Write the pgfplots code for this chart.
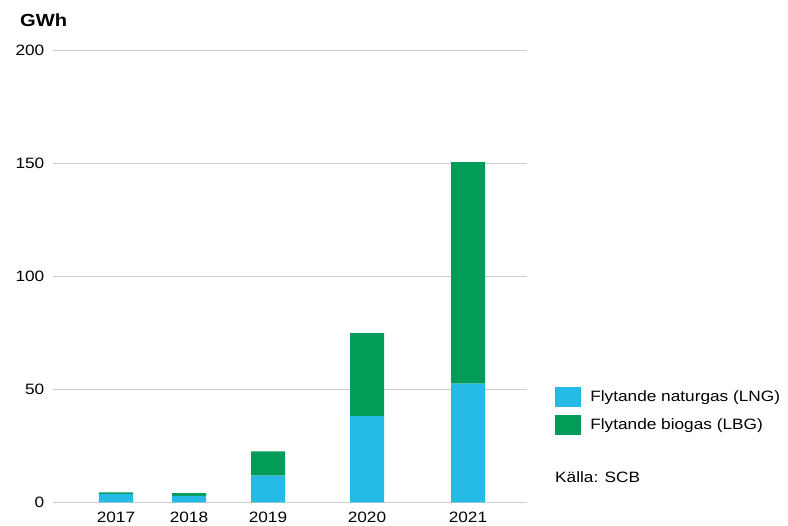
\documentclass[border=0pt]{standalone}
\usepackage{fontspec}
\setmainfont[FakeStretch=1.15]{Liberation Sans}
\usepackage{pgfplots}
\pgfplotsset{compat=1.18}
\definecolor{lngblue}{RGB}{38,186,230}
\definecolor{lbggreen}{RGB}{2,156,88}
\definecolor{gridgray}{RGB}{205,205,205}
\begin{document}
\begin{tikzpicture}
\useasboundingbox (-53.5bp,-23.7bp) rectangle (734.5bp,502.3bp);
\begin{axis}[
  scale only axis,
  width=473.2bp, height=451.6bp,
  xmin=53.5, xmax=526.7,
  ymin=0, ymax=200,
  ybar stacked,
  bar width=34bp,
  axis line style={draw=none},
  tick style={draw=none},
  ymajorgrids,
  major grid style={gridgray, line width=1bp},
  ytick={0,50,100,150,200},
  xtick={116,189,268,367,468},
  xticklabels={2017,2018,2019,2020,2021},
  /pgf/number format/assume math mode=true,
  ticklabel style={font=\fontsize{15bp}{18bp}\selectfont, text=black},
  yticklabel style={anchor=east, inner sep=0pt, xshift=-9bp},
  xticklabel style={anchor=north, inner sep=0pt, yshift=-10bp},
  legend style={
    at={(axis description cs:1.06,0.2553)}, anchor=north west,
    draw=none, fill=none, inner sep=0pt,
    font=\fontsize{15bp}{18bp}\selectfont,
    row sep=8bp, column sep=9bp,
    nodes={inner sep=0pt, anchor=west}
  },
  legend cell align=left,
  legend image code/.code={\fill[#1] (0bp,-10bp) rectangle (26bp,10bp);},
]
\addplot[fill=lngblue, draw=none] coordinates {
  (116,3.7) (189,2.9) (268,11.8) (367,38.2) (468,52.6)};
\addlegendentry{Flytande naturgas (LNG)}
\addplot[fill=lbggreen, draw=none] coordinates {
  (116,0.7) (189,1.2) (268,10.7) (367,36.7) (468,98.0)};
\addlegendentry{Flytande biogas (LBG)}
\end{axis}
\node[anchor=west, inner sep=0pt, font=\bfseries\fontsize{17.5bp}{20bp}\selectfont] at (-33.5bp,482.3bp) {GWh};
\node[anchor=west, inner sep=0pt, font=\fontsize{15bp}{18bp}\selectfont] at (501.5bp,25.3bp) {Källa: SCB};
\end{tikzpicture}
\end{document}
